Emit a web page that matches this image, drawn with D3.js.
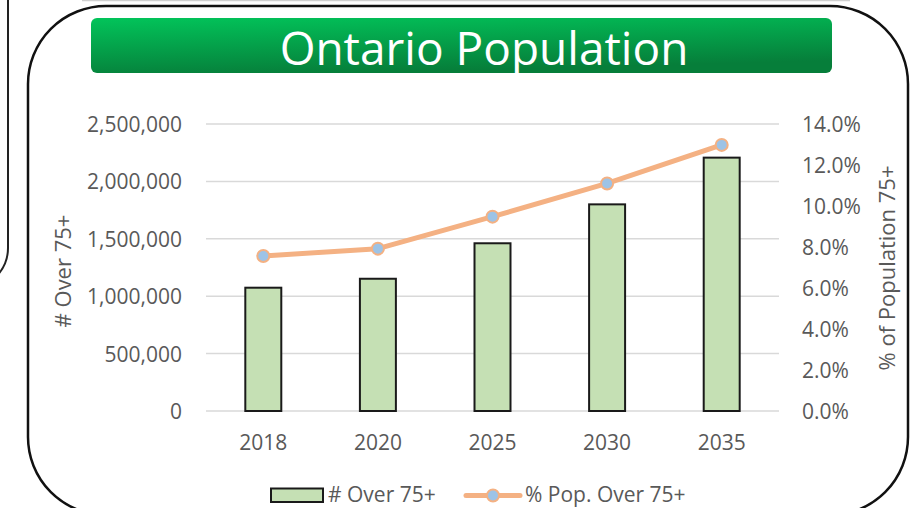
<!DOCTYPE html>
<html>
<head>
<meta charset="utf-8">
<script src="https://cdn.jsdelivr.net/npm/d3@7"></script>
<style>
  html, body { margin: 0; padding: 0; background: #fff; }
  svg { display: block; }
  text { font-family: "Open Sans", sans-serif; }
</style>
</head>
<body>
<svg id="chart" width="913" height="508"></svg>
<script>
// ---- data ----
const years = ["2018", "2020", "2025", "2030", "2035"];
const over75 = [1074000, 1152000, 1461000, 1800000, 2207000];
const pctOver75 = [7.56, 7.92, 9.48, 11.1, 12.98];
const leftTicks = [0, 500000, 1000000, 1500000, 2000000, 2500000];
const rightTicks = [0, 2, 4, 6, 8, 10, 12, 14];
const titleText = "Ontario Population";
const leftTitle = "# Over 75+";
const rightTitle = "% of Population 75+";
const legendLabels = ["# Over 75+", "% Pop. Over 75+"];

const svg = d3.select("#chart");
const W = 913, H = 508;
const plot = { left: 206, right: 779, top: 124, bottom: 411 };
const textColor = "#595959";

// background decorations
svg.append("line").attr("x1", 82).attr("x2", 850).attr("y1", 0.5).attr("y2", 0.5)
  .attr("stroke", "#d0d0d0").attr("stroke-width", 1.5);
svg.append("path").attr("d", "M8,-5 L8,248 A40,40 0 0 1 -32,288")
  .attr("fill", "none").attr("stroke", "#222").attr("stroke-width", 2);

// outer rounded frame
svg.append("rect").attr("x", 28).attr("y", 6).attr("width", 880).attr("height", 509)
  .attr("rx", 78).attr("ry", 78).attr("fill", "#fff")
  .attr("stroke", "#111").attr("stroke-width", 2.5);

// title banner
const defs = svg.append("defs");
const grad = defs.append("linearGradient").attr("id", "tg")
  .attr("x1", "0").attr("y1", "0").attr("x2", "0.35").attr("y2", "1");
grad.append("stop").attr("offset", "0%").attr("stop-color", "#02C45A");
grad.append("stop").attr("offset", "100%").attr("stop-color", "#067E3A");
svg.append("rect").attr("x", 91).attr("y", 18).attr("width", 741).attr("height", 55)
  .attr("rx", 6).attr("fill", "url(#tg)");
svg.append("text").attr("x", 484).attr("y", 65).attr("text-anchor", "middle")
  .attr("fill", "#fff").attr("font-size", 46).text(titleText);

// scales
const x = d3.scaleBand().domain(years).range([plot.left, plot.right])
  .paddingInner(0.686).paddingOuter(0.343);
const yL = d3.scaleLinear().domain([0, 2500000]).range([plot.bottom, plot.top]);
const yR = d3.scaleLinear().domain([0, 14]).range([plot.bottom, plot.top]);

// gridlines
svg.append("g").selectAll("line").data(leftTicks).join("line")
  .attr("x1", plot.left).attr("x2", plot.right)
  .attr("y1", d => yL(d)).attr("y2", d => yL(d))
  .attr("stroke", "#d9d9d9").attr("stroke-width", 1.5);

// left axis
const leftAxis = d3.axisLeft(yL).tickValues(leftTicks).tickSize(0).tickPadding(0)
  .tickFormat(d3.format(","));
const gL = svg.append("g").attr("transform", `translate(182,0)`).call(leftAxis);
gL.select(".domain").remove();
gL.selectAll("text").attr("font-size", 21).attr("fill", textColor)
  .attr("font-family", "Open Sans, sans-serif").attr("dy", "0.36em");

// right axis
const rightAxis = d3.axisRight(yR).tickValues(rightTicks).tickSize(0).tickPadding(0)
  .tickFormat(d => d3.format(".1f")(d) + "%");
const gR = svg.append("g").attr("transform", `translate(802,0)`).call(rightAxis);
gR.select(".domain").remove();
gR.selectAll("text").attr("font-size", 21).attr("fill", textColor)
  .attr("font-family", "Open Sans, sans-serif").attr("dy", "0.36em");

// bottom axis
const bottomAxis = d3.axisBottom(x).tickSize(0).tickPadding(0);
const gB = svg.append("g").attr("transform", `translate(0,${plot.bottom})`).call(bottomAxis);
gB.select(".domain").remove();
gB.selectAll("text").attr("font-size", 21).attr("fill", textColor)
  .attr("font-family", "Open Sans, sans-serif").attr("dy", null).attr("y", 39);

// axis titles
svg.append("text").attr("transform", "translate(71,271) rotate(-90)")
  .attr("text-anchor", "middle").attr("font-size", 22).attr("fill", textColor).text(leftTitle);
svg.append("text").attr("transform", "translate(895,268) rotate(-90)")
  .attr("text-anchor", "middle").attr("font-size", 22).attr("fill", textColor).text(rightTitle);

// bars
const data = years.map((yr, i) => ({ yr, v: over75[i], p: pctOver75[i] }));
svg.append("g").selectAll("rect").data(data).join("rect")
  .attr("x", d => x(d.yr)).attr("width", x.bandwidth())
  .attr("y", d => yL(d.v)).attr("height", d => yL(0) - yL(d.v))
  .attr("fill", "#C5E0B4").attr("stroke", "#1a1a1a").attr("stroke-width", 2);

// line
const cx = d => x(d.yr) + x.bandwidth() / 2;
svg.append("path").datum(data)
  .attr("d", d3.line().x(cx).y(d => yR(d.p)))
  .attr("fill", "none").attr("stroke", "#F4B183").attr("stroke-width", 5)
  .attr("stroke-linejoin", "round").attr("stroke-linecap", "round");
svg.append("g").selectAll("circle").data(data).join("circle")
  .attr("cx", cx).attr("cy", d => yR(d.p)).attr("r", 6)
  .attr("fill", "#9DC3E6").attr("stroke", "#F4B183").attr("stroke-width", 2);

// legend
const lg = svg.append("g");
lg.append("rect").attr("x", 271).attr("y", 488.5).attr("width", 52).attr("height", 13.5)
  .attr("fill", "#C5E0B4").attr("stroke", "#1a1a1a").attr("stroke-width", 2);
lg.append("text").attr("x", 328).attr("y", 502).attr("font-size", 21)
  .attr("fill", textColor).text(legendLabels[0]);
lg.append("line").attr("x1", 466).attr("x2", 520).attr("y1", 495.5).attr("y2", 495.5)
  .attr("stroke", "#F4B183").attr("stroke-width", 5).attr("stroke-linecap", "round");
lg.append("circle").attr("cx", 493).attr("cy", 495.5).attr("r", 6)
  .attr("fill", "#9DC3E6").attr("stroke", "#F4B183").attr("stroke-width", 2);
lg.append("text").attr("x", 525).attr("y", 502).attr("font-size", 21)
  .attr("fill", textColor).text(legendLabels[1]);
</script>
</body>
</html>
